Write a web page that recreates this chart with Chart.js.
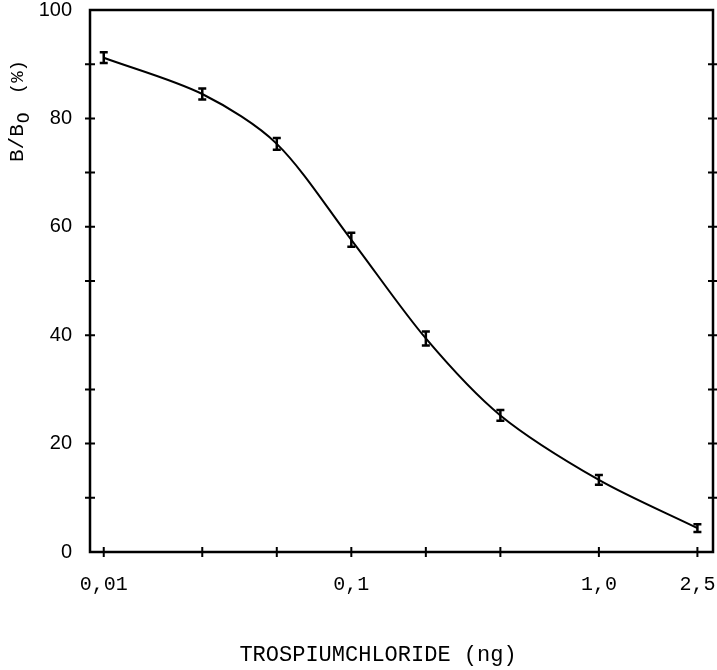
<!DOCTYPE html>
<html>
<head>
<meta charset="utf-8">
<script src="https://cdn.jsdelivr.net/npm/chart.js@4"></script>
<style>
  html, body { margin: 0; padding: 0; background: #fff; }
  #wrap { width: 717px; height: 670px; }
</style>
</head>
<body>
<div id="wrap"><canvas id="chart" width="717" height="670"></canvas></div>
<script>
// Dados
const doses = [0.01, 0.025, 0.05, 0.1, 0.2, 0.4, 1.0, 2.5];        // ng
const binding = [91.2, 84.5, 75.3, 57.6, 39.4, 25.2, 13.3, 4.4];   // B/Bo (%)
const errors = [1.0, 1.0, 1.1, 1.3, 1.3, 1.0, 0.9, 0.7];
const xTickValues = [0.01, 0.025, 0.05, 0.1, 0.2, 0.4, 1.0, 2.5];
const xTickLabels = { 0.01: '0,01', 0.1: '0,1', 1: '1,0', 2.5: '2,5' };

const monoFont = "'Liberation Mono', 'DejaVu Sans Mono', monospace";
const sansFont = "'Liberation Sans', Arial, sans-serif";

// Moldura, marcas dos eixos, barras de erro e títulos
const framePlugin = {
    id: 'frame',
    afterDatasetsDraw(chart) {
        const ctx = chart.ctx;
        const x = chart.scales.x;
        const y = chart.scales.y;
        ctx.save();
        ctx.strokeStyle = '#000';
        ctx.lineWidth = 2.5;
        doses.forEach((d, i) => {
            const px = x.getPixelForValue(d);
            const top = y.getPixelForValue(binding[i] + errors[i]);
            const bot = y.getPixelForValue(binding[i] - errors[i]);
            ctx.beginPath();
            ctx.moveTo(px, top); ctx.lineTo(px, bot);
            ctx.moveTo(px - 4, top); ctx.lineTo(px + 4, top);
            ctx.moveTo(px - 4, bot); ctx.lineTo(px + 4, bot);
            ctx.stroke();
        });
        ctx.restore();
    },
    afterDraw(chart) {
        const ctx = chart.ctx;
        const area = chart.chartArea;
        const x = chart.scales.x;
        const y = chart.scales.y;
        ctx.save();
        ctx.strokeStyle = '#000';
        ctx.lineWidth = 2.5;
        ctx.strokeRect(area.left, area.top, area.right - area.left, area.bottom - area.top);

        // marcas cruzando os eixos
        ctx.lineWidth = 2;
        ctx.beginPath();
        y.ticks.forEach(t => {
            if (t.value === 0 || t.value === 100) return;
            const py = y.getPixelForValue(t.value);
            ctx.moveTo(area.left - 5, py); ctx.lineTo(area.left + 5, py);
            ctx.moveTo(area.right - 5, py); ctx.lineTo(area.right + 5, py);
        });
        xTickValues.forEach(v => {
            const px = x.getPixelForValue(v);
            ctx.moveTo(px, area.bottom - 5); ctx.lineTo(px, area.bottom + 5);
        });
        ctx.stroke();

        // título do eixo x
        ctx.fillStyle = '#000';
        ctx.font = '22px ' + monoFont;
        ctx.textAlign = 'center';
        ctx.textBaseline = 'alphabetic';
        ctx.fillText('TROSPIUMCHLORIDE (ng)', 378, 661);

        // título do eixo y, com índice O
        ctx.translate(23, 162);
        ctx.rotate(-Math.PI / 2);
        ctx.textAlign = 'left';
        ctx.font = '21px ' + monoFont;
        ctx.fillText('B/B', 0, 0);
        const w = ctx.measureText('B/B').width;
        ctx.font = '18px ' + monoFont;
        ctx.fillText('O', w + 1, 6);
        ctx.font = '19px ' + monoFont;
        ctx.fillText('(%)', w + 30, 0);
        ctx.restore();
    }
};

new Chart(document.getElementById('chart'), {
    type: 'line',
    data: {
        datasets: [{
            data: doses.map((d, i) => ({ x: d, y: binding[i] })),
            borderColor: '#000',
            borderWidth: 2,
            pointRadius: 0,
            tension: 0.3,
            fill: false
        }]
    },
    options: {
        responsive: false,
        animation: false,
        layout: { padding: { top: 10, right: 4, left: 0, bottom: 0 } },
        plugins: {
            legend: { display: false },
            tooltip: { enabled: false }
        },
        scales: {
            x: {
                type: 'logarithmic',
                min: 0.0088,
                max: 2.89,
                grid: { display: false, drawTicks: false },
                border: { display: false },
                afterBuildTicks(scale) {
                    scale.ticks = xTickValues.map(v => ({ value: v }));
                },
                afterFit(scale) {
                    scale.height = 118;
                    scale.paddingLeft = 0;
                    scale.paddingRight = 0;
                },
                ticks: {
                    autoSkip: false,
                    maxRotation: 0,
                    padding: 21,
                    color: '#000',
                    font: { family: monoFont, size: 20 },
                    callback: v => xTickLabels[v] || ''
                }
            },
            y: {
                min: 0,
                max: 100,
                grid: { display: false, drawTicks: false },
                border: { display: false },
                afterFit(scale) {
                    scale.width = 90;
                    scale.paddingTop = 0;
                    scale.paddingBottom = 0;
                },
                ticks: {
                    stepSize: 10,
                    padding: 18,
                    color: '#000',
                    font: { family: sansFont, size: 20 },
                    callback: v => (v % 20 === 0 ? v : '')
                }
            }
        }
    },
    plugins: [framePlugin]
});
</script>
</body>
</html>
